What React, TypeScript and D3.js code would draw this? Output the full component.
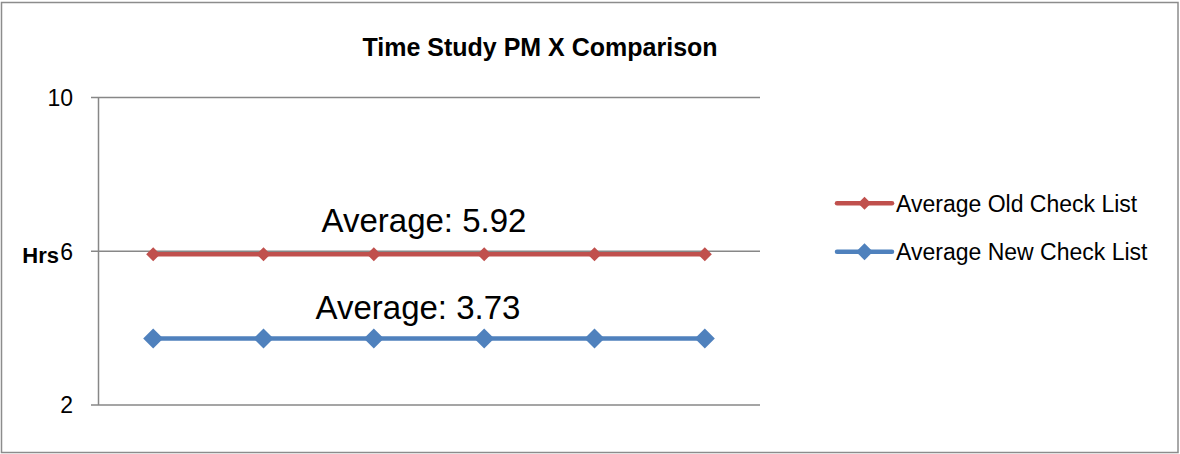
import React from "react";
import * as d3 from "d3";

const categories = ["1", "2", "3", "4", "5", "6"];
const oldValues = [5.92, 5.92, 5.92, 5.92, 5.92, 5.92];
const newValues = [3.73, 3.73, 3.73, 3.73, 3.73, 3.73];
const yTicks = [2, 6, 10];
const seriesNames = ["Average Old Check List", "Average New Check List"];
const annotations = ["Average: 5.92", "Average: 3.73"];
const title = "Time Study PM X Comparison";
const yLabel = "Hrs";

const W = 1180;
const H = 454;
const RED = "#C0504D";
const BLUE = "#4F81BD";
const AXIS = "#878787";
const FONT = "'Liberation Sans', Arial, sans-serif";

function diamond(cx: number, cy: number, r: number) {
  return `M${cx},${cy - r}L${cx + r},${cy}L${cx},${cy + r}L${cx - r},${cy}Z`;
}

export default function App() {
  const x = d3.scaleBand<string>().domain(categories).range([98, 760]);
  const y = d3.scaleLinear().domain([2, 10]).range([405, 97.5]);
  const cx = (c: string) => (x(c) as number) + x.bandwidth() / 2;
  const line = d3
    .line<number>()
    .x((_, i) => cx(categories[i]))
    .y((d) => y(d));

  const series = [
    { name: seriesNames[0], values: oldValues, color: RED, r: 7, lr: 6.5 },
    { name: seriesNames[1], values: newValues, color: BLUE, r: 10, lr: 8.5 },
  ];

  return (
    <svg
      width={W}
      height={H}
      style={{ position: "absolute", left: 0, top: 0, background: "#fff" }}
    >
      <rect x={1.5} y={2.5} width={1176.5} height={450} fill="#fff" stroke="#8c8c8c" strokeWidth={1.5} />
      <text x={540} y={56} textAnchor="middle" fontFamily={FONT} fontWeight="bold" fontSize={25} fill="#000">
        {title}
      </text>

      {/* gridlines and ticks */}
      {yTicks.map((t) => (
        <g key={t}>
          <line x1={91} x2={760} y1={y(t)} y2={y(t)} stroke={AXIS} strokeWidth={1.5} />
          <text x={73} y={y(t)} dy="0.36em" textAnchor="end" fontFamily={FONT} fontSize={23} fill="#000">
            {t}
          </text>
        </g>
      ))}
      <line x1={98.5} x2={98.5} y1={y(10)} y2={y(2)} stroke={AXIS} strokeWidth={1.5} />
      <text x={59} y={263} textAnchor="end" fontFamily={FONT} fontWeight="bold" fontSize={22} fill="#000">
        {yLabel}
      </text>

      {/* series */}
      {series.map((s) => (
        <g key={s.name}>
          <path d={line(s.values) as string} fill="none" stroke={s.color} strokeWidth={4.5} />
          {s.values.map((v, i) => (
            <path key={i} d={diamond(cx(categories[i]), y(v), s.r)} fill={s.color} />
          ))}
        </g>
      ))}

      {/* annotations */}
      <text x={424} y={231.7} textAnchor="middle" fontFamily={FONT} fontSize={33} fill="#000">
        {annotations[0]}
      </text>
      <text x={418} y={318.5} textAnchor="middle" fontFamily={FONT} fontSize={33} fill="#000">
        {annotations[1]}
      </text>

      {/* legend */}
      {series.map((s, i) => {
        const ly = i === 0 ? 203.3 : 251.7;
        return (
          <g key={s.name}>
            <line x1={837} x2={892} y1={ly} y2={ly} stroke={s.color} strokeWidth={4.5} strokeLinecap="round" />
            <path d={diamond(864.5, ly, s.lr)} fill={s.color} />
            <text x={896} y={ly} dy="0.36em" fontFamily={FONT} fontSize={23} fill="#000">
              {s.name}
            </text>
          </g>
        );
      })}
    </svg>
  );
}
